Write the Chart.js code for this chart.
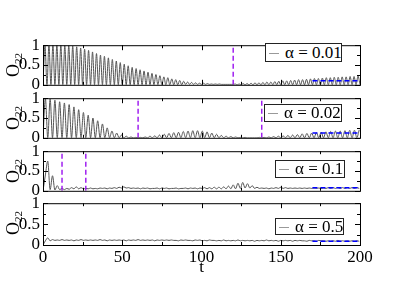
<!DOCTYPE html>
<html>
<head>
<meta charset="utf-8">
<script src="https://cdn.jsdelivr.net/npm/chart.js@4.4.0/dist/chart.umd.min.js"></script>
<style>
  body { margin: 0; background: #fff; }
  #wrap { position: relative; width: 399px; height: 282px; overflow: hidden; font-family: 'Liberation Serif', serif; }
  #wrap canvas { position: absolute; left: 0; }
  .legend { position: absolute; background: #fff; border: 1px solid #222; box-sizing: border-box; font-size: 17px; white-space: nowrap; }
  .legend .ln { position: absolute; left: 3px; width: 10px; border-top: 1px solid #999; }
  .legend .tx { position: absolute; left: 19px; }
  .ytitle { position: absolute; width: 44px; height: 20px; line-height: 20px; text-align: center; transform: rotate(-90deg); font-size: 18px; }
  .ytitle sub { font-size: 11px; vertical-align: -3px; }
</style>
</head>
<body>
<div id="wrap"></div>
<script>
// O22(t) for four coupling strengths
const alphas = ['0.01', '0.02', '0.1', '0.5'];
const xTicks = [0, 50, 100, 150, 200];
const yTicks = [0, 0.5, 1];

// alpha = 0.01 : peaks / troughs every half period (1.25)
const peaks1 = [1.00, 1.00, 1.00, 1.00, 1.00, 0.99, 0.99, 0.98, 0.96, 0.93,
    0.90, 0.87, 0.83, 0.79, 0.75, 0.72, 0.68, 0.64, 0.60, 0.56,
    0.52, 0.48, 0.44, 0.41, 0.38, 0.35, 0.32, 0.29, 0.26, 0.23,
    0.20, 0.18, 0.15, 0.13, 0.11, 0.09, 0.07, 0.06, 0.05, 0.04,
    0.04, 0.03, 0.02, 0.02, 0.02, 0.01, 0.01, 0.01, 0.02, 0.02,
    0.03, 0.03, 0.04, 0.05, 0.05, 0.06, 0.07, 0.07, 0.08, 0.09,
    0.10, 0.10, 0.11, 0.12, 0.13, 0.13, 0.14, 0.15, 0.16, 0.16,
    0.17, 0.18, 0.18, 0.19, 0.19, 0.20, 0.20, 0.21, 0.21, 0.22];
const troughs1 = [0, 0, 0, 0, 0, 0, 0, 0, 0, 0,
    0, 0, 0, 0, 0, 0, 0, 0, 0, 0,
    0, 0, 0, 0, 0, 0, 0, 0, 0, 0,
    0, 0, 0, 0, 0, 0, 0.01, 0.01, 0.01, 0.01,
    0.01, 0.01, 0.01, 0.01, 0.01, 0.01, 0.01, 0.01, 0.01, 0,
    0, 0, 0, 0, 0, 0, 0, 0, 0, 0,
    0, 0, 0, 0, 0, 0, 0, 0, 0, 0,
    0, 0, 0, 0, 0, 0, 0, 0, 0, 0, 0];

// alpha = 0.02 : half period 1.5
const peaks2 = [1.00, 0.98, 0.95, 0.91, 0.88, 0.84, 0.78, 0.71, 0.64, 0.57,
    0.50, 0.43, 0.35, 0.25, 0.17, 0.12, 0.07, 0.04, 0.02, 0.01,
    0.01, 0.02, 0.04, 0.05, 0.07, 0.09, 0.11, 0.13, 0.14, 0.16,
    0.17, 0.18, 0.18, 0.17, 0.15, 0.12, 0.09, 0.06, 0.04, 0.03,
    0.02, 0.01, 0.01, 0.00, 0.00, 0.01, 0.01, 0.02, 0.03, 0.04,
    0.05, 0.06, 0.07, 0.08, 0.10, 0.11, 0.12, 0.13, 0.14, 0.15,
    0.16, 0.17, 0.17, 0.18, 0.19, 0.19, 0.20];
const troughs2 = [0, 0, 0, 0, 0, 0, 0, 0, 0, 0,
    0, 0, 0, 0, 0, 0, 0, 0, 0, 0,
    0, 0, 0, 0, 0, 0, 0, 0, 0, 0,
    0, 0, 0, 0, 0, 0, 0, 0, 0, 0,
    0, 0, 0, 0, 0, 0, 0, 0, 0, 0,
    0, 0, 0, 0, 0, 0, 0, 0, 0, 0,
    0, 0, 0, 0, 0, 0, 0];

// alpha = 0.1 and 0.5 : samples every 1.5
const o22c = [0, 0.40, 0.75, 0.03, 0.38, 0.02, 0.13, 0.03, 0.06, 0.03,
    0.06, 0.04, 0.08, 0.05, 0.10, 0.05, 0.08, 0.05, 0.06, 0.05,
    0.07, 0.05, 0.06, 0.05, 0.07, 0.06, 0.07, 0.05, 0.07, 0.06,
    0.08, 0.06, 0.09, 0.07, 0.10, 0.07, 0.08, 0.06, 0.07, 0.06,
    0.07, 0.05, 0.07, 0.06, 0.07, 0.05, 0.06, 0.06, 0.07, 0.05,
    0.07, 0.06, 0.07, 0.05, 0.06, 0.06, 0.07, 0.05, 0.06, 0.06,
    0.07, 0.05, 0.07, 0.06, 0.07, 0.05, 0.07, 0.06, 0.08, 0.05,
    0.08, 0.05, 0.09, 0.05, 0.09, 0.05, 0.10, 0.05, 0.12, 0.05,
    0.15, 0.05, 0.19, 0.06, 0.21, 0.07, 0.18, 0.07, 0.13, 0.06,
    0.09, 0.06, 0.07, 0.06, 0.07, 0.05, 0.07, 0.06, 0.08, 0.06,
    0.09, 0.06, 0.08, 0.06, 0.07, 0.06, 0.07, 0.06, 0.07, 0.06,
    0.07, 0.06, 0.07, 0.06, 0.07, 0.06, 0.07, 0.06, 0.07, 0.06,
    0.08, 0.06, 0.08, 0.06, 0.08, 0.06, 0.08, 0.06, 0.08, 0.06,
    0.08, 0.06, 0.08, 0.06];
const o22d = [0, 0.10, 0.17, 0.10, 0.13, 0.11, 0.12, 0.11, 0.13, 0.11,
    0.12, 0.11, 0.12, 0.10, 0.12, 0.11, 0.13, 0.11, 0.12, 0.11,
    0.12, 0.11, 0.12, 0.11, 0.13, 0.11, 0.12, 0.10, 0.12, 0.11,
    0.12, 0.11, 0.12, 0.11, 0.12, 0.10, 0.12, 0.11, 0.12, 0.11,
    0.13, 0.11, 0.12, 0.11, 0.12, 0.11, 0.12, 0.10, 0.12, 0.11,
    0.12, 0.11, 0.12, 0.11, 0.12, 0.11, 0.11, 0.10, 0.12, 0.11,
    0.12, 0.11, 0.11, 0.10, 0.12, 0.11, 0.12, 0.10, 0.11, 0.10,
    0.12, 0.11, 0.11, 0.10, 0.11, 0.10, 0.12, 0.10, 0.11, 0.10,
    0.11, 0.10, 0.12, 0.10, 0.11, 0.10, 0.11, 0.10, 0.11, 0.09,
    0.11, 0.10, 0.11, 0.10, 0.12, 0.10, 0.11, 0.10, 0.11, 0.09,
    0.11, 0.10, 0.11, 0.10, 0.11, 0.09, 0.11, 0.10, 0.11, 0.10,
    0.10, 0.09, 0.11, 0.10, 0.10, 0.09, 0.11, 0.10, 0.10, 0.09,
    0.10, 0.09, 0.10, 0.09, 0.11, 0.09, 0.10, 0.09, 0.10, 0.09,
    0.10, 0.09, 0.10, 0.09];

// long-time average (blue dashes) and marked times (purple dashes)
const steadyLevel = [0.10, 0.12, 0.08, 0.09];
const steadyRange = [170, 200];
const markTimes = [[120], [60, 138], [12, 27], []];

function interleave(troughs, peaks, dt) {
    const pts = [];
    troughs.forEach((y, k) => {
        pts.push({ x: 2 * k * dt, y: y });
        if (k < peaks.length) pts.push({ x: (2 * k + 1) * dt, y: peaks[k] });
    });
    return pts;
}
function sampled(vals, dt) {
    return vals.map((y, i) => ({ x: i * dt, y: y }));
}

const series = [
    interleave(troughs1, peaks1, 1.25),
    interleave(troughs2, peaks2, 1.5),
    sampled(o22c, 1.5),
    sampled(o22d, 1.5)
];

// layout of the four panels (plot area top, legend box)
const panelTops = [44, 97, 150, 202];
const panelH = 42;
const legendBoxes = [
    { left: 265, top: 43, w: 77, h: 19 },
    { left: 264, top: 104, w: 78, h: 18 },
    { left: 275, top: 160, w: 70, h: 18 },
    { left: 275, top: 218, w: 69, h: 17 }
];

Chart.defaults.font.family = "'Liberation Serif', serif";
Chart.defaults.font.size = 17;
Chart.defaults.color = '#000';

// box with inward ticks on all four sides
const framePlugin = {
    id: 'frame',
    afterDatasetsDraw(chart) {
        const { ctx, chartArea: a, scales: { x, y } } = chart;
        ctx.save();
        ctx.strokeStyle = '#000';
        ctx.lineWidth = 1;
        ctx.beginPath();
        for (let v = 0; v <= 200; v += 25) {
            const px = Math.round(x.getPixelForValue(v)) + 0.5;
            const len = v % 50 === 0 ? 5 : 3;
            ctx.moveTo(px, a.bottom); ctx.lineTo(px, a.bottom - len);
            ctx.moveTo(px, a.top); ctx.lineTo(px, a.top + len);
        }
        for (let v = 0; v <= 1; v += 0.25) {
            const py = Math.round(y.getPixelForValue(v)) + 0.5;
            const len = v % 0.5 === 0 ? 5 : 3;
            ctx.moveTo(a.left, py); ctx.lineTo(a.left + len, py);
            ctx.moveTo(a.right, py); ctx.lineTo(a.right - len, py);
        }
        ctx.stroke();
        ctx.strokeRect(a.left + 0.5, a.top + 0.5, a.right - a.left, a.bottom - a.top);
        ctx.restore();
    }
};

const wrap = document.getElementById('wrap');

series.forEach((pts, p) => {
    const last = p === series.length - 1;
    const canvasTop = panelTops[p] - 12;
    const canvasH = last ? 282 - canvasTop : panelH + 24;

    const canvas = document.createElement('canvas');
    canvas.width = 399;
    canvas.height = canvasH;
    canvas.style.top = canvasTop + 'px';
    wrap.appendChild(canvas);

    const datasets = [];
    markTimes[p].forEach(m => {
        datasets.push({
            data: [{ x: m, y: 0 }, { x: m, y: 1 }],
            borderColor: '#a020f0', borderWidth: 1.5, borderDash: [5, 3]
        });
    });
    datasets.push({
        data: steadyRange.map(t => ({ x: t, y: steadyLevel[p] })),
        borderColor: '#0000ff', borderWidth: 1.5, borderDash: [5, 3]
    });
    datasets.push({
        data: pts,
        borderColor: '#555', borderWidth: 1,
        cubicInterpolationMode: 'monotone'
    });

    new Chart(canvas, {
        type: 'line',
        data: { datasets: datasets },
        options: {
            responsive: false,
            animation: false,
            events: [],
            layout: { padding: { left: 0, right: 39, top: 12, bottom: last ? 4 : 12 } },
            elements: { point: { radius: 0 } },
            plugins: { legend: { display: false }, tooltip: { enabled: false } },
            scales: {
                x: {
                    type: 'linear', min: 0, max: 200,
                    display: last,
                    grid: { display: false, drawTicks: false },
                    border: { display: false },
                    afterBuildTicks: s => { s.ticks = xTicks.map(v => ({ value: v })); },
                    afterFit: s => { if (last) s.height = 33; },
                    ticks: { padding: 2, maxRotation: 0, autoSkip: false, callback: v => String(v) },
                    title: { display: true, text: 't', padding: 0 }
                },
                y: {
                    min: 0, max: 1,
                    grid: { display: false, drawTicks: false },
                    border: { display: false },
                    afterBuildTicks: s => { s.ticks = yTicks.map(v => ({ value: v })); },
                    afterFit: s => { s.width = 43; },
                    ticks: { padding: 3, autoSkip: false, callback: v => String(v) }
                }
            }
        },
        plugins: [framePlugin]
    });

    const lb = legendBoxes[p];
    const leg = document.createElement('div');
    leg.className = 'legend';
    leg.style.left = lb.left + 'px';
    leg.style.top = lb.top + 'px';
    leg.style.width = lb.w + 'px';
    leg.style.height = lb.h + 'px';
    leg.style.lineHeight = (lb.h - 2) + 'px';
    leg.innerHTML = '<span class="ln" style="top:' + Math.round(lb.h / 2 - 1) + 'px"></span>' +
        '<span class="tx">\u03b1 = ' + alphas[p] + '</span>';
    wrap.appendChild(leg);

    const yt = document.createElement('div');
    yt.className = 'ytitle';
    yt.style.left = (13 - 22) + 'px';
    yt.style.top = (panelTops[p] + panelH / 2 - 10) + 'px';
    yt.innerHTML = 'O<sub>22</sub>';
    wrap.appendChild(yt);
});
</script>
</body>
</html>
